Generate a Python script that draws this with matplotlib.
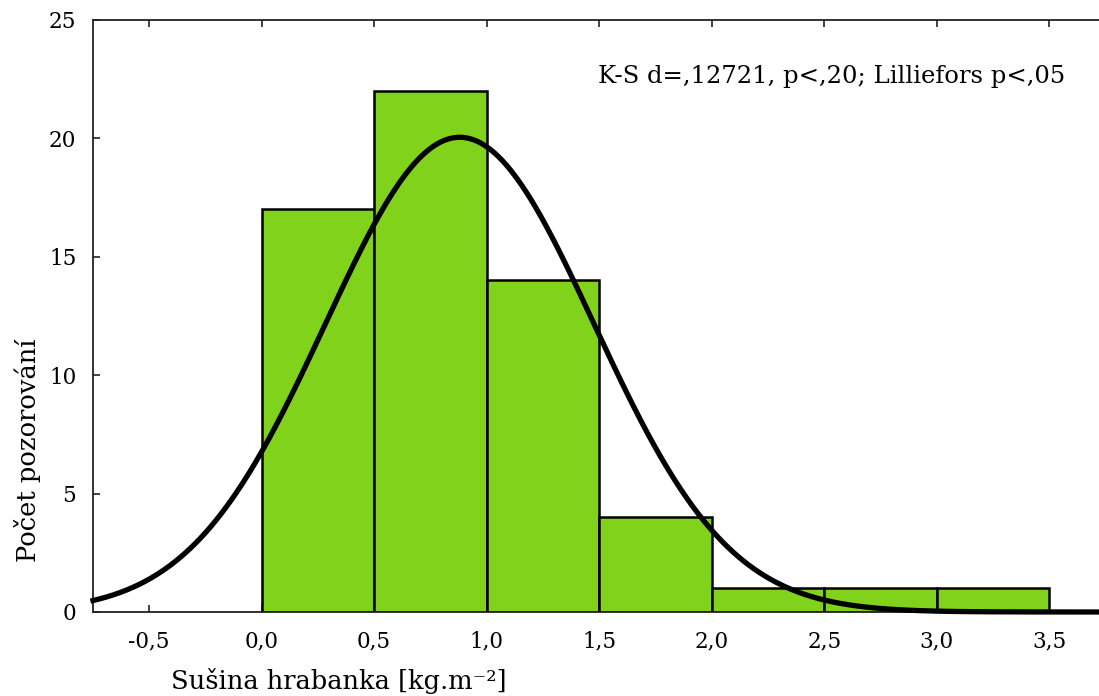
import numpy as np
import matplotlib
matplotlib.use("Agg")
import matplotlib.pyplot as plt

# Histogram of observed dry mass (bin edges and counts)
bin_edges = [0.0, 0.5, 1.0, 1.5, 2.0, 2.5, 3.0, 3.5]
counts = [17, 22, 14, 4, 1, 1, 1]

# Fitted normal curve parameters (expected counts per bin)
fit_mean = 0.88
fit_sd = 0.597
n_obs = sum(counts)
bin_width = 0.5

x_ticks = [-0.5, 0.0, 0.5, 1.0, 1.5, 2.0, 2.5, 3.0, 3.5]
x_tick_labels = ["-0,5", "0,0", "0,5", "1,0", "1,5", "2,0", "2,5", "3,0", "3,5"]
y_ticks = [0, 5, 10, 15, 20, 25]
y_tick_labels = ["0", "5", "10", "15", "20", "25"]

plt.rcParams["font.family"] = ["DejaVu Serif"]

W, H = 1099, 696
fig = plt.figure(figsize=(W / 100, H / 100), dpi=100)
ax = fig.add_axes([93 / W, 1 - 612 / H, 1 - 93 / W, (612 - 20) / H])

lefts = bin_edges[:-1]
widths = np.diff(bin_edges)
ax.bar(lefts, counts, width=widths, align="edge", color="#80D21A",
       edgecolor="black", linewidth=1.8, zorder=2)

xlim = (-0.749, 3.72)
xs = np.linspace(xlim[0], xlim[1], 600)
ys = n_obs * bin_width / (fit_sd * np.sqrt(2 * np.pi)) * np.exp(-0.5 * ((xs - fit_mean) / fit_sd) ** 2)
ax.plot(xs, ys, color="black", linewidth=3.8, zorder=3, clip_on=False)

ax.set_xlim(*xlim)
ax.set_ylim(0, 25)
ax.set_xticks(x_ticks)
ax.set_xticklabels(x_tick_labels)
ax.set_yticks(y_ticks)
ax.set_yticklabels(y_tick_labels)

ax.spines["right"].set_visible(False)
for s in ["left", "bottom", "top"]:
    ax.spines[s].set_linewidth(1.3)
    ax.spines[s].set_color("#222222")

ax.tick_params(axis="both", direction="in", length=5, width=1.2, labelsize=15.5,
               color="#222222")
ax.tick_params(axis="x", top=True, pad=13)
ax.tick_params(axis="y", pad=12)

ax.text(0.966, 0.905, "K-S d=,12721, p<,20; Lilliefors p<,05", transform=ax.transAxes,
        ha="right", va="center", fontsize=17.5)

fig.text(339 / W, 1 - 681 / H, "Sušina hrabanka [kg.m⁻²]", ha="center", va="center",
         fontsize=18.5)
fig.text(28 / W, 1 - 450 / H, "Počet pozorování", ha="center", va="center",
         rotation=90, fontsize=18.5)

fig.savefig("out.png", dpi=100, facecolor="white")
